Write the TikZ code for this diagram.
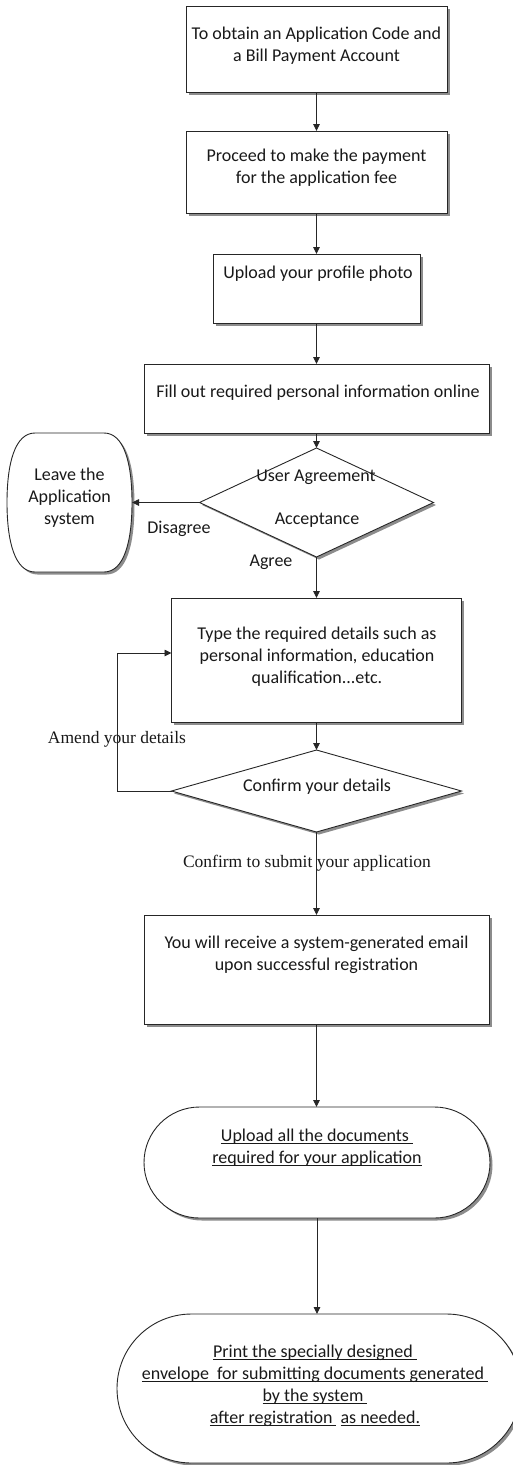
\documentclass[tikz,border=0pt]{standalone}
\usepackage{fontspec}
\setmainfont{Carlito}
\newfontfamily\timesf{Liberation Serif}
\usetikzlibrary{arrows.meta,shapes.geometric,shapes.misc,shadows}
\newcommand\myul[1]{\leavevmode\setbox0\hbox{#1}\rlap{\rule[-2.8pt]{\wd0}{0.7pt}}\box0}
\begin{document}
\begin{tikzpicture}[x=1pt,y=1pt,
  every node/.style={inner sep=0pt, outer sep=0pt},
  shad/.style={drop shadow={shadow xshift=2.5pt,shadow yshift=-2.5pt,fill=black!45,opacity=1}},
  box/.style={draw=black!85, line width=0.9pt, fill=white, shad, rectangle},
  dia/.style={draw=black!85, line width=0.9pt, fill=white, shad, diamond},
  stad/.style={draw=black!85, line width=0.9pt, fill=white, shad, rounded rectangle},
  shp/.style={draw=black!85, line width=0.9pt, fill=white, shad},
  txt/.style={align=center, font=\fontsize{18}{22}\selectfont, text=black!90},
  tlbl/.style={font=\timesf\fontsize{17.5}{21}\selectfont, text=black!90},
  arr/.style={draw=black!85, line width=0.9pt, -{Triangle[length=7pt,width=6.5pt]}},
]
\useasboundingbox (0,0) rectangle (513,-1465);

% boxes
\node[box, minimum width=261pt, minimum height=86pt] (b1) at (316.5,-49) {};
\node[txt] (t1) at (316.5,-46) {To obtain an Application Code and\\a Bill Payment Account};

\node[box, minimum width=261pt, minimum height=82pt] (b2) at (316.5,-172) {};
\node[txt] (t2) at (316.5,-167.5) {Proceed to make the payment\\for the application fee};

\node[box, minimum width=207pt, minimum height=69pt] (b3) at (316.5,-288.5) {};
\node[txt] (t3) at (318,-274) {Upload your profile photo};

\node[box, minimum width=345pt, minimum height=69pt] (b4) at (316.5,-398.5) {};
\node[txt] (t4) at (318,-393) {Fill out required personal information online};

\node[dia, minimum width=234pt, minimum height=109pt] (d1) at (316.5,-502.5) {};
\node[txt] (t5a) at (316,-477) {User Agreement};
\node[txt] (t5b) at (317,-520) {Acceptance};

% leave shape
\node (leave) at (69.5,-502.5) [minimum width=125pt, minimum height=139pt] {};
\path[shp] (35,-433) -- (104,-433)
  .. controls (124,-433) and (132,-463) .. (132,-502.5)
  .. controls (132,-542) and (124,-572) .. (104,-572)
  -- (35,-572)
  .. controls (15,-572) and (7,-542) .. (7,-502.5)
  .. controls (7,-463) and (15,-433) .. (35,-433) -- cycle;
\node[txt] (t6) at (69.5,-498) {Leave the\\Application\\system};

\node[txt] (dis) at (179,-529) {Disagree};
\node[txt] (agr) at (271,-562) {Agree};

\node[box, minimum width=290pt, minimum height=124pt] (b5) at (316.5,-660) {};
\node[txt] (t7) at (317,-656.5) {Type the required details such as\\personal information, education\\qualification...etc.};

\node[dia, minimum width=290pt, minimum height=82pt] (d2) at (316.5,-791) {};
\node[txt] (t8) at (317,-787) {Confirm your details};

\coordinate (lp) at (117,-653);
\node[tlbl] (amend) at (117,-739) {Amend your details};
\node[tlbl] (conf) at (307,-863) {Confirm to submit your application};

\node[box, minimum width=345pt, minimum height=109pt] (b6) at (316.5,-969.5) {};
\node[txt] (t9) at (316.5,-954.5) {You will receive a system-generated email\\upon successful registration};

\node[stad, minimum width=346pt, minimum height=111pt] (s1) at (317,-1162.5) {};
\node[txt] (t10) at (317,-1147.5) {\myul{Upload all the documents\ }\\\myul{required for your application}};

\node[stad, minimum width=404pt, minimum height=149pt] (s2) at (319,-1388.5) {};
\node[txt] (t11) at (315,-1385.5) {\myul{Print the specially designed\ }\\\myul{envelope\ \ for submitting documents generated\ }\\\myul{by the system\ }\\\myul{after registration\ }\ \myul{as needed.}};

% connectors
\draw[arr] (b1.south) -- (b2.north);
\draw[arr] (b2.south) -- (b3.north);
\draw[arr] (b3.south) -- (b4.north);
\draw[arr] (b4.south) -- (d1.north);
\draw[arr] (d1.west) -- (leave.east);
\draw[arr] (d1.south) -- (b5.north);
\draw[arr] (b5.south) -- (d2.north);
\draw[arr] (d2.west) -| (lp) -- (lp -| b5.west);
\draw[arr] (d2.south) -- (b6.north);
\draw[arr] (b6.south) -- (s1.north -| b6.south);
\draw[arr] (s1.south) -- (s2.north -| s1.south);
\end{tikzpicture}
\end{document}
